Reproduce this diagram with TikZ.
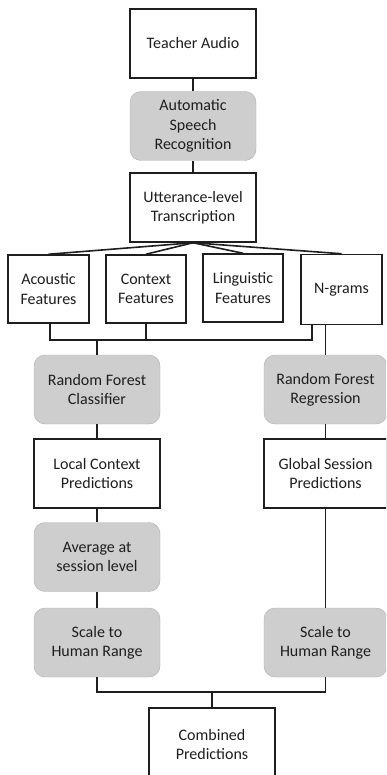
\documentclass[tikz,border=0pt]{standalone}
\usepackage{fontspec}
\setmainfont{Carlito}
\usetikzlibrary{calc}
\definecolor{boxgray}{RGB}{206,206,206}
\definecolor{txt}{RGB}{30,30,30}
\definecolor{ln}{RGB}{30,30,30}
\tikzset{
  base/.style={align=center, font=\fontsize{16}{19.2}\selectfont, text=txt, inner sep=2pt},
  wbox/.style={base, draw=ln, line width=1.5pt, fill=white, minimum width=126pt, minimum height=69pt},
  gbox/.style={base, fill=boxgray, draw=boxgray!85!black, line width=0.4pt, rounded corners=11pt, minimum width=126pt, minimum height=69pt},
  fbox/.style={wbox, minimum width=81pt, minimum height=68pt},
  conn/.style={draw=ln, line width=1.6pt}
}
\begin{document}
\begin{tikzpicture}[x=1pt,y=-1pt]
\useasboundingbox (0,0) rectangle (386,775);
\clip (0,0) rectangle (386,775);
\node[wbox] (teacher) at (193,43.5) {Teacher Audio};
\node[gbox] (asr) at (193,126) {Automatic\\Speech\\Recognition};
\node[wbox] (utt) at (193,207.5) {Utterance-level\\Transcription};
\node[fbox] (acou) at (48.5,289) {Acoustic\\Features};
\node[fbox, minimum width=80pt] (ctx) at (146,289) {Context\\Features};
\node[fbox, minimum width=80pt] (ling) at (243,288) {Linguistic\\Features};
\node[fbox, minimum height=70pt] (ngr) at (341.5,289.5) {N-grams};
\node[gbox] (rfc) at (97,389.5) {Random Forest\\Classifier};
\node[gbox, minimum width=123pt] (rfr) at (325.5,389.5) {Random Forest\\Regression};
\node[wbox] (local) at (97,473.5) {Local Context\\Predictions};
\node[wbox, minimum width=123pt] (global) at (325.5,473.5) {Global Session\\Predictions};
\node[gbox] (avg) at (97,557) {Average at\\session level};
\node[gbox] (scl) at (97,642.5) {Scale to\\Human Range};
\node[gbox, minimum width=123pt] (scr) at (325.5,642.5) {Scale to\\Human Range};
\node[wbox, minimum height=73pt] (comb) at (212,744.5) {Combined\\Predictions};
% connectors
\draw[conn] (teacher.south) -- (asr.north);
\draw[conn] (asr.south) -- (utt.north);
\foreach \n in {acou,ctx,ling,ngr} \draw[conn] (utt.south) -- (\n.north);
\coordinate (ngs) at ($(ngr.south)+(-29.5,0)$);
\coordinate (acs) at ($(acou.south)+(1.5,0)$);
\draw[conn] (acs) -- (acs |- 0,340) -- (ngs |- 0,340) -- (ngs);
\draw[conn] (ctx.south) -- (ctx.south |- 0,340);
\draw[conn] ($(ling.south)+(1,0)$) -- ($(ling.south)+(1,0)$ |- 0,340);
\draw[conn] (rfc.north |- 0,340) -- (rfc.north);
\draw[conn] (ngr.south -| rfr.north) -- (rfr.north);
\draw[conn] (rfc.south) -- (local.north);
\draw[conn] (local.south) -- (avg.north);
\draw[conn] (avg.south) -- (scl.north);
\draw[conn] (rfr.south) -- (global.north);
\draw[conn] (global.south) -- (scr.north);
\draw[conn] (scl.south) -- ++(0,15) -| (scr.south);
\draw[conn] (comb.north) -- (comb.north |- 0,692);
\end{tikzpicture}
\end{document}
